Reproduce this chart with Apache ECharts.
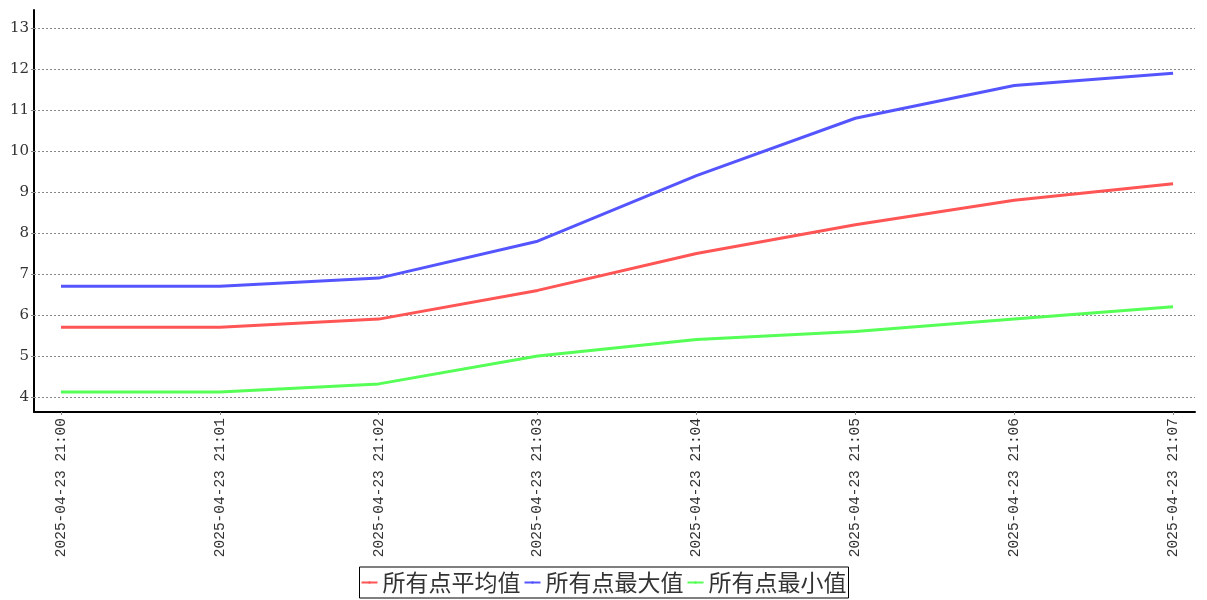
<!DOCTYPE html>
<html><head><meta charset="utf-8">
<script src="https://cdn.jsdelivr.net/npm/echarts@6/dist/echarts.min.js"></script>
<style>html,body{margin:0;padding:0;background:#fff}#c{width:1207px;height:600px}</style>
</head><body><div id="c"></div>
<script>
const categories = ['2025-04-23 21:00','2025-04-23 21:01','2025-04-23 21:02','2025-04-23 21:03','2025-04-23 21:04','2025-04-23 21:05','2025-04-23 21:06','2025-04-23 21:07'];
const seriesNames = ['所有点平均值','所有点最大值','所有点最小值'];
const avgValues = [5.7, 5.7, 5.9, 6.6, 7.5, 8.2, 8.8, 9.2];
const maxValues = [6.7, 6.7, 6.9, 7.8, 9.4, 10.8, 11.6, 11.9];
const minValues = [4.12, 4.12, 4.32, 5.0, 5.4, 5.6, 5.9, 6.2];
const yTicks = [4,5,6,7,8,9,10,11,12,13];
const colors = ['#FF5555','#5555FF','#55FF55'];

const xIdx = categories.map((c,i)=>i);
const toPairs = arr => arr.map((v,i)=>[i,v]);
const font = '"DejaVu Serif", "Liberation Serif", serif';
const monoFont = '"Liberation Mono", "DejaVu Sans Mono", monospace';

const chart = echarts.init(document.getElementById('c'), null, {renderer:'canvas'});
chart.setOption({
  animation:false,
  backgroundColor:'#fff',
  color: colors,
  grid:{left:34, right:12, top:10, bottom:188, containLabel:false},
  legend:{
    bottom:2, left:'center',
    data: seriesNames,
    borderColor:'#000', borderWidth:1, borderRadius:0,
    padding:[4,2,4,1],
    itemWidth:16, itemHeight:3, itemGap:3,
    textStyle:{fontFamily:'"Noto Sans CJK SC", sans-serif', fontSize:23, color:'#333'}
  },
  xAxis:{
    type:'value', min:-0.17, max:7.138,
    axisLine:{show:true, onZero:false, lineStyle:{color:'#000', width:2}},
    axisTick:{show:true, customValues:xIdx, length:3, lineStyle:{color:'#888'}},
    axisLabel:{show:true, customValues:xIdx, rotate:90, fontFamily:monoFont, fontSize:14.5, color:'#333', margin:6,
      formatter:v=>categories[Math.round(v)]},
    splitLine:{show:false}
  },
  yAxis:{
    type:'value', min:3.634, max:13.44,
    axisLine:{show:true, onZero:false, lineStyle:{color:'#000', width:2}},
    axisTick:{show:true, customValues:yTicks, length:3, lineStyle:{color:'#888'}},
    axisLabel:{show:true, customValues:yTicks, fontFamily:font, fontSize:15, color:'#333', margin:5},
    splitLine:{show:false}
  },
  series:[
    {name:seriesNames[0], type:'line', data:toPairs(avgValues), showSymbol:false, symbol:'none', lineStyle:{width:3}, z:3,
      markLine:{silent:true, symbol:['none','none'], label:{show:false},
        lineStyle:{color:'#888', type:[2,2], width:1}, data: yTicks.map(t=>({yAxis:t})), z:1}},
    {name:seriesNames[1], type:'line', data:toPairs(maxValues), showSymbol:false, symbol:'none', lineStyle:{width:3}, z:3},
    {name:seriesNames[2], type:'line', data:toPairs(minValues), showSymbol:false, symbol:'none', lineStyle:{width:3}, z:3}
  ]
});
</script></body></html>
